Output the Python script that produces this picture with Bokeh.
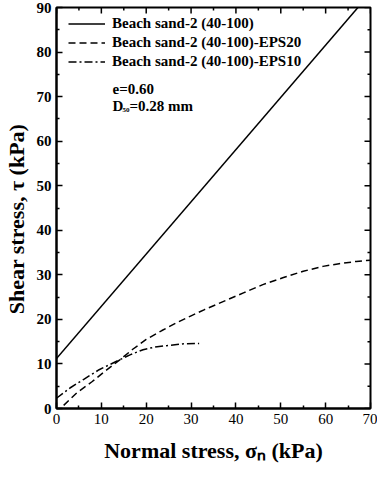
import math
from bokeh.plotting import figure
from bokeh.models import FixedTicker, Range1d, Label, Legend, LegendItem
from bokeh.embed import file_html
from bokeh.resources import INLINE

# ---- data ----
sand_x = [0.0, 67.2]
sand_y = [11.2, 90.0]

eps20_x = [1.6, 4.5, 7.9, 11.0, 14.1, 17.0, 20.0, 23.5, 26.7, 30.0, 33.0, 36.0,
           41.8, 46.0, 50.6, 55.0, 59.4, 63.0, 66.8, 70.0]
eps20_y = [0.7, 3.5, 6.0, 8.5, 10.9, 13.3, 15.5, 17.5, 19.2, 20.8, 22.2, 23.5,
           26.0, 27.8, 29.4, 30.8, 31.9, 32.5, 33.0, 33.3]

eps10_x = [0.0, 3.0, 6.0, 9.5, 13.4, 16.5, 19.3, 22.0, 24.5, 28.0, 31.8]
eps10_y = [2.3, 4.6, 6.5, 8.7, 10.6, 12.1, 13.2, 13.8, 14.1, 14.5, 14.6]

labels = ["Beach sand-2 (40-100)", "Beach sand-2 (40-100)-EPS20",
          "Beach sand-2 (40-100)-EPS10"]

x_ticks = [0, 10, 20, 30, 40, 50, 60, 70]
x_minor = [5, 15, 25, 35, 45, 55, 65]
y_ticks = [0, 10, 20, 30, 40, 50, 60, 70, 80, 90]
y_minor = [5, 15, 25, 35, 45, 55, 65, 75, 85]
X_MAX = 70
Y_MAX = 90

FONT = "Liberation Serif"

p = figure(width=377, height=471, x_range=Range1d(0, X_MAX),
           y_range=Range1d(0, Y_MAX),
           output_backend="svg", toolbar_location=None,
           min_border_left=53, min_border_right=7, min_border_top=7,
           min_border_bottom=63)
p.xgrid.visible = False
p.ygrid.visible = False
p.outline_line_color = "black"
p.outline_line_width = 2
p.background_fill_color = "white"
p.border_fill_color = "white"


def style(ax, ticks, minor, bold=False):
    ax.ticker = FixedTicker(ticks=ticks, minor_ticks=minor)
    ax.major_tick_in = 6
    ax.major_tick_out = 0
    ax.minor_tick_in = 3
    ax.minor_tick_out = 0
    ax.axis_line_width = 2
    ax.axis_line_color = "black"
    ax.major_tick_line_width = 1.5
    ax.minor_tick_line_width = 1.5
    ax.major_tick_line_color = "black"
    ax.minor_tick_line_color = "black"
    ax.major_label_text_font = FONT
    ax.major_label_text_color = "black"
    ax.major_label_text_font_style = "bold" if bold else "normal"
    ax.major_label_text_font_size = "15px"
    ax.major_label_standoff = 5
    ax.axis_label_text_font = FONT
    ax.axis_label_text_font_style = "bold"
    ax.axis_label_text_font_size = "22px"
    ax.axis_label_text_color = "black"


style(p.xaxis[0], x_ticks, x_minor, bold=False)
style(p.yaxis[0], y_ticks, y_minor, bold=True)
p.xaxis[0].axis_label = "Normal stress, \u03c3\u2099 (kPa)"
p.xaxis[0].axis_label_standoff = 11
p.yaxis[0].axis_label = "Shear stress, \u03c4 (kPa)" + "\u00a0" * 4
p.yaxis[0].axis_label_standoff = 5

# inward ticks on the top and right edges of the box (half of each dash is clipped)
p.scatter(x=x_ticks, y=[Y_MAX] * len(x_ticks), marker="dash", size=12,
          angle=math.pi / 2, line_color="black", line_width=1.5)
p.scatter(x=x_minor, y=[Y_MAX] * len(x_minor), marker="dash", size=6,
          angle=math.pi / 2, line_color="black", line_width=1.5)
p.scatter(x=[X_MAX] * len(y_ticks), y=y_ticks, marker="dash", size=12,
          line_color="black", line_width=1.5)
p.scatter(x=[X_MAX] * len(y_minor), y=y_minor, marker="dash", size=6,
          line_color="black", line_width=1.5)

r1 = p.line(sand_x, sand_y, line_color="black", line_width=1.5)
r2 = p.line(eps20_x, eps20_y, line_color="black", line_width=1.5, line_dash="7 4")
r3 = p.line(eps10_x, eps10_y, line_color="black", line_width=1.5,
            line_dash="8 3 2 3")

legend = Legend(items=[LegendItem(label=labels[0], renderers=[r1]),
                       LegendItem(label=labels[1], renderers=[r2]),
                       LegendItem(label=labels[2], renderers=[r3])],
                location=(12, 338), padding=0, margin=0, spacing=2,
                glyph_width=37, glyph_height=17, label_height=17,
                label_standoff=7, border_line_color=None,
                background_fill_alpha=0,
                label_text_font=FONT, label_text_font_style="bold",
                label_text_font_size="15px", label_text_color="black")
p.add_layout(legend, "center")


def lab(text, x, y, size, bold=True):
    p.add_layout(Label(x=x, y=y, x_units="screen", y_units="screen", text=text,
                       text_font=FONT, text_font_size=size,
                       text_font_style="bold" if bold else "normal",
                       text_color="black", text_align="left",
                       text_baseline="alphabetic"))


# annotation texts inside the plot
lab("e=0.60", 56, 320, "15px")
lab("D", 56, 303, "15px")
lab("50", 66, 299, "7px")
lab("=0.28 mm", 73, 303, "15px")

open("out.html", "w").write(file_html(p, INLINE))
